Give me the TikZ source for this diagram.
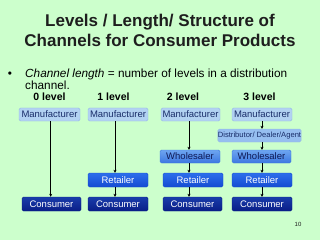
\documentclass[tikz,border=0pt]{standalone}
\usepackage{fontspec}
\setmainfont{Liberation Sans}
\usetikzlibrary{arrows.meta}
\definecolor{bgc}{RGB}{204,255,204}
\definecolor{mfill}{RGB}{178,210,242}
\definecolor{mdraw}{RGB}{150,185,230}
\definecolor{mtext}{RGB}{25,45,105}
\definecolor{dfill}{RGB}{150,190,240}
\definecolor{wtop}{RGB}{110,165,240}
\definecolor{wbot}{RGB}{60,120,225}
\definecolor{wtext}{RGB}{15,25,85}
\definecolor{rtop}{RGB}{45,110,235}
\definecolor{rbot}{RGB}{20,75,210}
\definecolor{ctop}{RGB}{25,60,170}
\definecolor{cbot}{RGB}{10,30,135}
\definecolor{titlec}{RGB}{30,30,30}
\begin{document}
\begin{tikzpicture}[x=1pt,y=-1pt,
  box/.style={rounded corners=1.5pt, inner sep=0pt, minimum height=13pt,
    font=\fontsize{9.5}{10}\selectfont},
  manu/.style={box, fill=mfill, draw=mdraw, line width=0.4pt, text=mtext, minimum width=60pt},
  dist/.style={box, fill=dfill, draw=mdraw, line width=0.4pt, text=mtext, minimum width=83pt,
    font=\fontsize{7.6}{8}\selectfont},
  whole/.style={box, top color=wtop, bottom color=wbot, draw=wbot, text=wtext, minimum width=60pt},
  retail/.style={box, top color=rtop, bottom color=rbot, draw=rbot, text=white, minimum width=60pt, minimum height=14pt},
  cons/.style={box, top color=ctop, bottom color=cbot, draw=cbot, text=white, minimum width=59pt, minimum height=14pt},
  lvl/.style={anchor=base, font=\fontsize{10.5}{12}\selectfont\bfseries},
  arr/.style={-{Stealth[length=3pt,width=3pt]}, line width=0.9pt, black}
]
\fill[bgc] (0,0) rectangle (320,240);
\useasboundingbox (0,0) rectangle (320,240);

\node[anchor=base, text=titlec, font=\fontsize{17}{20}\selectfont\bfseries] (t1) at (160,27) {Levels / Length/ Structure of};
\node[anchor=base, text=titlec, font=\fontsize{17}{20}\selectfont\bfseries] (t2) at (160,46.5) {Channels for Consumer Products};

\node[anchor=base, font=\fontsize{11.8}{14}\selectfont] (bul) at (10,77.5) {•};
\node[anchor=base west, inner sep=0pt, font=\fontsize{11.8}{14}\selectfont] (b1) at (25,77.5) {\itshape Channel length\upshape{} = number of levels in a distribution};
\node[anchor=base west, inner sep=0pt, font=\fontsize{11.8}{14}\selectfont] (b2) at (25,90) {channel.};

\node[lvl] (l0) at (49.5,101) {0 level};
\node[lvl] (l1) at (113.5,101) {1 level};
\node[lvl] (l2) at (183,101) {2 level};
\node[lvl] (l3) at (259.5,101) {3 level};

% column 0
\node[manu, minimum width=61pt] (m0) at (49.5,114.5) {Manufacturer};
\node[cons] (c0) at (51.5,204) {Consumer};
% column 1
\node[manu] (m1) at (118,114.5) {Manufacturer};
\node[retail] (r1) at (118,180) {Retailer};
\node[cons, minimum width=60pt] (c1) at (118,204) {Consumer};
% column 2
\node[manu, minimum width=59pt] (m2) at (190.5,114.5) {Manufacturer};
\node[whole] (w2) at (190,156.5) {Wholesaler};
\node[retail] (r2) at (193,180) {Retailer};
\node[cons] (c2) at (192.5,204) {Consumer};
% column 3
\node[manu] (m3) at (262,114.5) {Manufacturer};
\node[dist] (d3) at (259.5,135.5) {Distributor/ Dealer/Agent};
\node[whole, minimum width=59pt] (w3) at (261.5,156.5) {Wholesaler};
\node[retail] (r3) at (262,180) {Retailer};
\node[cons, minimum width=60pt] (c3) at (262,204) {Consumer};

% arrows
\draw[arr] ([xshift=1.2pt]m0.south) -- ([xshift=-0.8pt]c0.north);
\draw[arr] ([xshift=-3pt]m1.south) -- ([xshift=-3pt]r1.north);
\draw[arr] ([xshift=-3pt]r1.south) -- ([xshift=-3pt]c1.north);
\draw[arr] ([xshift=-1.5pt]m2.south) -- ([xshift=-1pt]w2.north);
\draw[arr] ([xshift=-1pt]w2.south) -- ([xshift=-4pt]r2.north);
\draw[arr] ([xshift=-4pt]r2.south) -- ([xshift=-3.5pt]c2.north);
\draw[arr] (m3.south) -- ([xshift=2.5pt]d3.north);
\draw[arr] ([xshift=2.5pt]d3.south) -- ([xshift=0.5pt]w3.north);
\draw[arr] ([xshift=0.5pt]w3.south) -- (r3.north);
\draw[arr] (r3.south) -- (c3.north);

\node[anchor=base, text=titlec, font=\fontsize{6}{7}\selectfont] (pg) at (298,226) {10};
\end{tikzpicture}
\end{document}
